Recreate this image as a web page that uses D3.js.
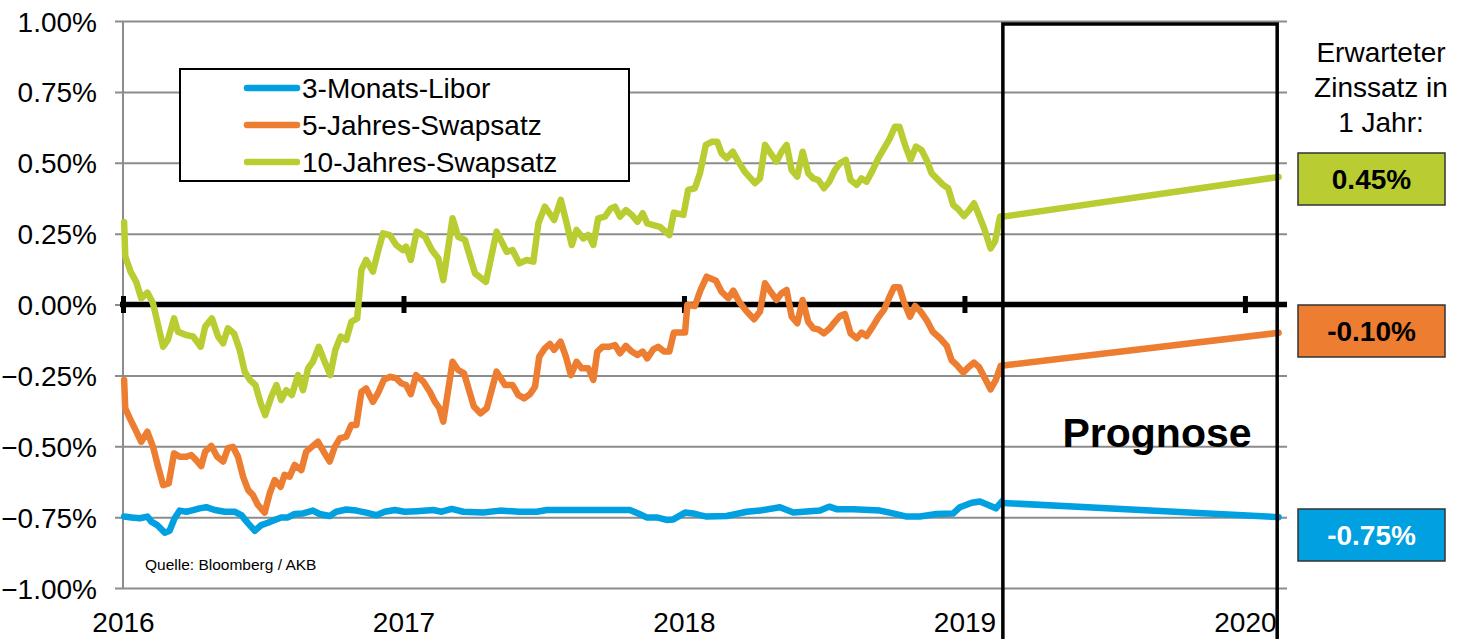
<!DOCTYPE html>
<html><head><meta charset="utf-8">
<script src="https://cdn.jsdelivr.net/npm/d3@7"></script>
<style>
html,body{margin:0;padding:0;background:#fff;}
svg{display:block;font-family:"Liberation Sans",Arial,sans-serif;}
</style></head>
<body><svg id="c" width="1463" height="639"></svg>
<script>
// ---- data (time = years since start of 2016, value = % p.a.) ----
const yearLabels = ["2016","2017","2018","2019","2020"];
const yTickValues = [1, 0.75, 0.5, 0.25, 0, -0.25, -0.5, -0.75, -1];
const seriesNames = ["3-Monats-Libor","5-Jahres-Swapsatz","10-Jahres-Swapsatz"];
const seriesColors = ["#00A0E1","#ED7D31","#B9CD32"];

const libor = [[0.004,-0.748],[0.030,-0.751],[0.060,-0.754],[0.087,-0.748],[0.101,-0.766],[0.122,-0.778],[0.149,-0.805],[0.166,-0.798],[0.184,-0.754],[0.202,-0.727],[0.226,-0.731],[0.250,-0.725],[0.273,-0.719],[0.297,-0.715],[0.327,-0.725],[0.363,-0.731],[0.398,-0.731],[0.422,-0.743],[0.446,-0.772],[0.470,-0.798],[0.493,-0.778],[0.517,-0.770],[0.541,-0.760],[0.564,-0.751],[0.588,-0.751],[0.612,-0.739],[0.642,-0.737],[0.677,-0.727],[0.701,-0.739],[0.737,-0.746],[0.760,-0.731],[0.796,-0.723],[0.832,-0.727],[0.867,-0.734],[0.903,-0.743],[0.933,-0.731],[0.969,-0.725],[1.004,-0.731],[1.047,-0.729],[1.106,-0.725],[1.136,-0.731],[1.172,-0.721],[1.213,-0.731],[1.284,-0.734],[1.344,-0.727],[1.415,-0.731],[1.475,-0.731],[1.511,-0.725],[1.558,-0.725],[1.807,-0.725],[1.837,-0.737],[1.867,-0.751],[1.903,-0.751],[1.938,-0.760],[1.962,-0.758],[2.004,-0.734],[2.033,-0.737],[2.057,-0.743],[2.081,-0.748],[2.152,-0.746],[2.224,-0.731],[2.271,-0.727],[2.342,-0.715],[2.390,-0.734],[2.485,-0.727],[2.518,-0.713],[2.544,-0.722],[2.604,-0.722],[2.699,-0.727],[2.746,-0.737],[2.794,-0.748],[2.841,-0.748],[2.901,-0.739],[2.960,-0.737],[2.984,-0.715],[3.026,-0.699],[3.055,-0.695],[3.085,-0.707],[3.112,-0.719],[3.133,-0.695]];

const swap5 = [[0.004,-0.266],[0.008,-0.366],[0.024,-0.401],[0.042,-0.437],[0.065,-0.484],[0.087,-0.449],[0.107,-0.502],[0.125,-0.572],[0.143,-0.637],[0.163,-0.631],[0.182,-0.525],[0.202,-0.537],[0.226,-0.537],[0.243,-0.531],[0.261,-0.549],[0.279,-0.570],[0.293,-0.519],[0.315,-0.499],[0.336,-0.537],[0.357,-0.554],[0.374,-0.507],[0.392,-0.502],[0.410,-0.537],[0.428,-0.607],[0.446,-0.654],[0.463,-0.672],[0.481,-0.707],[0.505,-0.734],[0.523,-0.666],[0.541,-0.619],[0.562,-0.643],[0.576,-0.601],[0.594,-0.607],[0.612,-0.566],[0.636,-0.584],[0.653,-0.519],[0.671,-0.504],[0.695,-0.484],[0.719,-0.525],[0.737,-0.554],[0.755,-0.502],[0.773,-0.472],[0.796,-0.466],[0.814,-0.425],[0.832,-0.425],[0.850,-0.308],[0.867,-0.296],[0.891,-0.343],[0.909,-0.313],[0.930,-0.266],[0.951,-0.255],[0.974,-0.260],[0.992,-0.278],[1.009,-0.284],[1.026,-0.316],[1.045,-0.249],[1.071,-0.272],[1.094,-0.308],[1.112,-0.343],[1.128,-0.366],[1.142,-0.413],[1.175,-0.202],[1.195,-0.231],[1.216,-0.243],[1.251,-0.360],[1.275,-0.384],[1.297,-0.366],[1.332,-0.237],[1.362,-0.284],[1.389,-0.284],[1.409,-0.319],[1.430,-0.331],[1.451,-0.316],[1.469,-0.290],[1.484,-0.184],[1.504,-0.155],[1.522,-0.139],[1.537,-0.160],[1.560,-0.131],[1.579,-0.184],[1.597,-0.249],[1.617,-0.202],[1.635,-0.225],[1.659,-0.225],[1.677,-0.266],[1.691,-0.166],[1.710,-0.149],[1.734,-0.149],[1.754,-0.143],[1.772,-0.172],[1.793,-0.146],[1.814,-0.166],[1.834,-0.178],[1.853,-0.166],[1.869,-0.190],[1.891,-0.158],[1.908,-0.149],[1.929,-0.166],[1.948,-0.166],[1.964,-0.099],[1.986,-0.099],[2.004,-0.099],[2.012,-0.002],[2.039,-0.005],[2.059,0.051],[2.081,0.098],[2.114,0.084],[2.134,0.045],[2.158,0.022],[2.176,0.049],[2.197,0.010],[2.224,-0.025],[2.250,-0.052],[2.271,-0.025],[2.289,0.075],[2.309,0.045],[2.330,0.016],[2.348,0.040],[2.366,0.051],[2.384,-0.043],[2.404,-0.066],[2.423,0.016],[2.443,-0.061],[2.461,-0.084],[2.479,-0.088],[2.499,-0.102],[2.520,-0.084],[2.538,-0.061],[2.556,-0.041],[2.574,-0.034],[2.594,-0.102],[2.616,-0.119],[2.633,-0.099],[2.651,-0.111],[2.673,-0.078],[2.693,-0.045],[2.713,-0.019],[2.732,0.025],[2.749,0.061],[2.768,0.061],[2.784,0.010],[2.806,-0.043],[2.824,-0.005],[2.844,-0.025],[2.865,-0.055],[2.887,-0.096],[2.913,-0.119],[2.937,-0.146],[2.954,-0.196],[2.972,-0.213],[2.996,-0.240],[3.013,-0.222],[3.034,-0.205],[3.053,-0.222],[3.070,-0.255],[3.093,-0.299],[3.112,-0.266],[3.129,-0.217]];

const swap10 = [[0.004,0.29],[0.008,0.17],[0.027,0.116],[0.047,0.08],[0.065,0.022],[0.087,0.042],[0.107,0.004],[0.143,-0.149],[0.160,-0.125],[0.182,-0.049],[0.196,-0.096],[0.226,-0.108],[0.250,-0.113],[0.277,-0.149],[0.293,-0.078],[0.317,-0.049],[0.339,-0.113],[0.357,-0.137],[0.374,-0.084],[0.396,-0.102],[0.416,-0.160],[0.434,-0.237],[0.452,-0.266],[0.472,-0.284],[0.491,-0.349],[0.507,-0.390],[0.529,-0.325],[0.547,-0.284],[0.564,-0.337],[0.582,-0.302],[0.602,-0.319],[0.624,-0.249],[0.642,-0.302],[0.660,-0.225],[0.677,-0.202],[0.698,-0.149],[0.719,-0.202],[0.739,-0.249],[0.757,-0.160],[0.776,-0.113],[0.796,-0.125],[0.814,-0.061],[0.835,-0.049],[0.850,0.122],[0.867,0.157],[0.891,0.116],[0.909,0.186],[0.927,0.251],[0.951,0.245],[0.974,0.210],[0.998,0.192],[1.009,0.204],[1.026,0.157],[1.047,0.257],[1.077,0.239],[1.101,0.192],[1.124,0.163],[1.142,0.086],[1.175,0.304],[1.195,0.239],[1.219,0.228],[1.255,0.110],[1.294,0.080],[1.332,0.257],[1.368,0.186],[1.389,0.192],[1.413,0.145],[1.439,0.157],[1.463,0.151],[1.481,0.286],[1.504,0.345],[1.537,0.298],[1.561,0.369],[1.582,0.286],[1.600,0.210],[1.617,0.263],[1.641,0.233],[1.659,0.245],[1.677,0.210],[1.694,0.304],[1.718,0.310],[1.739,0.339],[1.754,0.345],[1.772,0.310],[1.793,0.333],[1.814,0.316],[1.834,0.292],[1.853,0.322],[1.869,0.286],[1.891,0.280],[1.914,0.274],[1.948,0.245],[1.964,0.324],[1.998,0.316],[2.015,0.404],[2.039,0.410],[2.057,0.463],[2.078,0.563],[2.099,0.574],[2.119,0.574],[2.134,0.533],[2.152,0.516],[2.174,0.539],[2.194,0.504],[2.217,0.468],[2.238,0.445],[2.253,0.428],[2.271,0.445],[2.289,0.563],[2.309,0.533],[2.330,0.504],[2.348,0.539],[2.366,0.563],[2.384,0.474],[2.404,0.451],[2.423,0.539],[2.443,0.463],[2.461,0.445],[2.479,0.439],[2.499,0.410],[2.518,0.433],[2.538,0.474],[2.556,0.498],[2.577,0.510],[2.594,0.439],[2.616,0.422],[2.633,0.445],[2.651,0.433],[2.673,0.474],[2.693,0.516],[2.717,0.557],[2.734,0.586],[2.752,0.627],[2.768,0.627],[2.788,0.563],[2.808,0.510],[2.827,0.557],[2.847,0.545],[2.865,0.510],[2.883,0.463],[2.901,0.445],[2.924,0.422],[2.942,0.410],[2.960,0.351],[2.978,0.336],[2.998,0.312],[3.017,0.333],[3.034,0.357],[3.049,0.322],[3.070,0.269],[3.093,0.198],[3.109,0.222],[3.127,0.310]];

// forecast: start (Feb 2019) and end (one year later)
const forecastTimes = [3.137, 4.12];
const liborForecast = [-0.70, -0.75];
const swap5Forecast = [-0.215, -0.10];
const swap10Forecast = [0.31, 0.45];
const expectedLabels = ["0.45%","-0.10%","-0.75%"];
const expectedColors = ["#B9CD32","#ED7D31","#00A0E1"];
const expectedTextColors = ["#000","#000","#fff"];
const forecastWindow = [3.137, 4.115];

// ---- drawing ----
const svg = d3.select("#c");
const x = d3.scaleLinear().domain([0, 4.15]).range([123, 1287]);
const y = d3.scaleLinear().domain([-1, 1]).range([588, 21]);
const FONT = 28;

// gridlines + y labels
const yAxis = d3.axisLeft(y).tickValues(yTickValues).tickSize(-(1287 - 115)).tickPadding(18)
  .tickFormat(d => d3.format(".2f")(d) + "%");
const gy = svg.append("g").attr("transform", "translate(115,0)").call(yAxis);
gy.select(".domain").remove();
gy.selectAll(".tick line").attr("stroke", "#8c8c8c").attr("stroke-width", 2);
gy.selectAll(".tick text").attr("font-size", FONT).attr("fill", "#000")
  .attr("font-family", '"Liberation Sans",Arial,sans-serif').attr("dy", "0.36em");

// y axis line
svg.append("line").attr("x1", 123).attr("x2", 123).attr("y1", y(1)).attr("y2", y(-1))
  .attr("stroke", "#8c8c8c").attr("stroke-width", 2);

// x labels at bottom
const xLab = d3.axisBottom(x).tickValues([0,1,2,3,4]).tickSize(0).tickPadding(24)
  .tickFormat(i => yearLabels[i]);
const gx = svg.append("g").attr("transform", `translate(0,${y(-1)})`).call(xLab);
gx.select(".domain").remove();
gx.selectAll(".tick text").attr("font-size", FONT).attr("fill", "#000")
  .attr("font-family", '"Liberation Sans",Arial,sans-serif');

// zero line with year tick marks
svg.append("line").attr("x1", 120).attr("x2", 1287).attr("y1", y(0)).attr("y2", y(0))
  .attr("stroke", "#000").attr("stroke-width", 5.5);
const xTicks = d3.axisBottom(x).tickValues([0,1,2,3,4]).tickSize(17).tickFormat("");
const gt = svg.append("g").attr("transform", `translate(0,${y(0) - 8.5})`).call(xTicks);
gt.select(".domain").remove();
gt.selectAll(".tick line").attr("stroke", "#000").attr("stroke-width", 5);

// series
const line = d3.line().x(d => x(d[0])).y(d => y(d[1]));
const allSeries = [libor, swap5, swap10];
const forecasts = [liborForecast, swap5Forecast, swap10Forecast];
allSeries.forEach((s, i) => {
  const pts = s.concat([[forecastTimes[0], forecasts[i][0]]]);
  svg.append("path").attr("d", line(pts)).attr("fill", "none")
    .attr("stroke", seriesColors[i]).attr("stroke-width", 6.5)
    .attr("stroke-linejoin", "round").attr("stroke-linecap", "round");
  const fpts = forecastTimes.map((t, k) => [t, forecasts[i][k]]);
  svg.append("path").attr("d", line(fpts)).attr("fill", "none")
    .attr("stroke", seriesColors[i]).attr("stroke-width", 6.5)
    .attr("stroke-linecap", "round");
});

// forecast window box
svg.append("path")
  .attr("d", `M${x(forecastWindow[0])},660 V24 H${x(forecastWindow[1])} V660`)
  .attr("fill", "none").attr("stroke", "#000").attr("stroke-width", 3.5);
svg.append("text").attr("x", 1157).attr("y", 447).attr("text-anchor", "middle")
  .attr("font-size", 41).attr("font-weight", "bold").text("Prognose");

// legend
const lg = svg.append("g");
lg.append("rect").attr("x", 180).attr("y", 69).attr("width", 449).attr("height", 112)
  .attr("fill", "#fff").attr("stroke", "#000").attr("stroke-width", 2);
[0, 1, 2].forEach((i, k) => {
  const ly = 88 + k * 37;
  lg.append("line").attr("x1", 247).attr("x2", 297).attr("y1", ly).attr("y2", ly)
    .attr("stroke", seriesColors[i]).attr("stroke-width", 6.5).attr("stroke-linecap", "round");
  lg.append("text").attr("x", 302).attr("y", ly + 10).attr("font-size", FONT).text(seriesNames[i]);
});

// source
svg.append("text").attr("x", 145).attr("y", 570).attr("font-size", 15.5).text("Quelle: Bloomberg / AKB");

// right side: expected rates
const hdr = ["Erwarteter", "Zinssatz in", "1 Jahr:"];
hdr.forEach((t, k) => svg.append("text").attr("x", 1381).attr("y", 62 + k * 35)
  .attr("text-anchor", "middle").attr("font-size", FONT).text(t));
const boxTops = [153, 305, 509];
expectedLabels.forEach((lab, i) => {
  svg.append("rect").attr("x", 1298).attr("y", boxTops[i]).attr("width", 147).attr("height", 52)
    .attr("fill", expectedColors[i]).attr("stroke", "#333").attr("stroke-width", 1.5);
  svg.append("text").attr("x", 1371.5).attr("y", boxTops[i] + 36).attr("text-anchor", "middle")
    .attr("font-size", FONT).attr("font-weight", "bold").attr("fill", expectedTextColors[i]).text(lab);
});
</script></body></html>
